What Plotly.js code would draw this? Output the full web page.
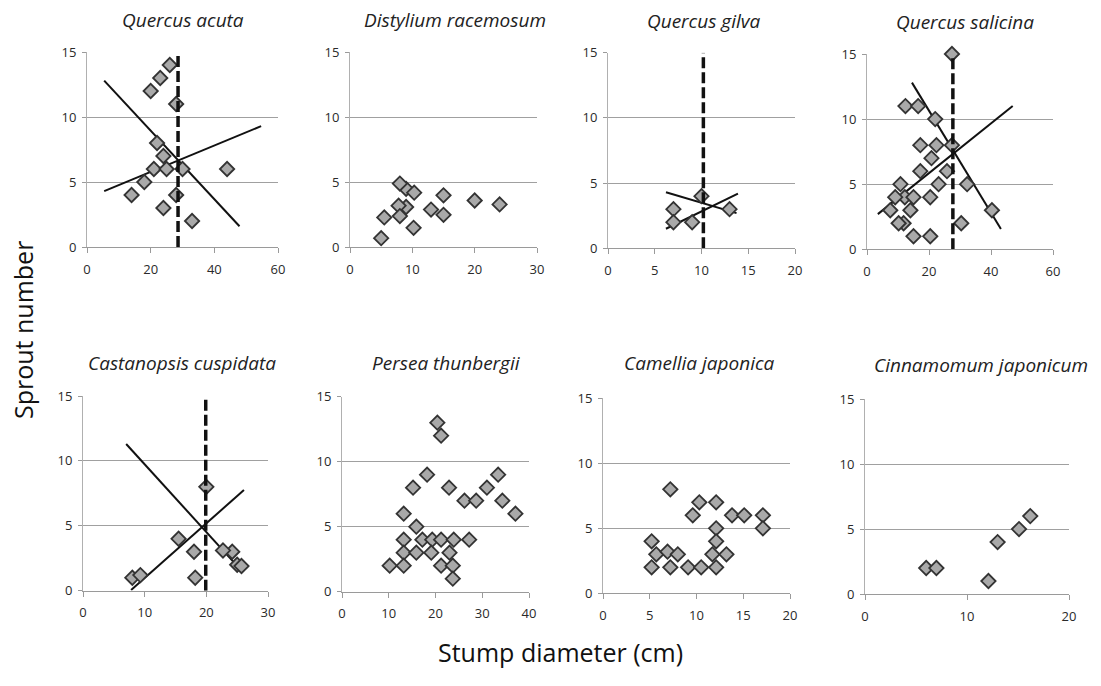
<!DOCTYPE html>
<html>
<head>
<meta charset="utf-8">
<script src="https://cdn.plot.ly/plotly-3.0.1.min.js"></script>
<style>html,body{margin:0;padding:0;background:#fff;}#chart{width:1101px;height:686px;}</style>
</head>
<body>
<div id="chart"></div>
<script>
// ---------- data ----------
const species = ["Quercus acuta","Distylium racemosum","Quercus gilva","Quercus salicina",
                 "Castanopsis cuspidata","Persea thunbergii","Camellia japonica","Cinnamomum japonicum"];
const xMax = [60,30,20,60,30,40,20,20];
const xStep = [20,10,5,20,10,10,5,10];
const yTicks = [0,5,10,15];

const qaX = [14,18,20,23,26,28,22,24,21,25,30,24,28,33,44];
const qaY = [4,5,12,13,14,11,8,7,6,6,6,3,4,2,6];
const drX = [5,5.5,9,8,10.3,9,7.8,8,10.2,13,15,15,20,24];
const drY = [0.7,2.3,4.5,4.9,4.2,3.1,3.2,2.4,1.5,2.9,4,2.5,3.6,3.3];
const qgX = [7,7,9,10,13];
const qgY = [3,2,2,4,3];
const qsX = [27.4,12.4,16.5,22,17.2,22.4,27.4,20.8,17.2,25.8,10.8,23.1,32.3,12.2,9.1,15,20.4,7.5,14,11.8,10.2,30.4,15,20.4,40.3];
const qsY = [15,11,11,10,8,8,8,7,6,6,5,5,5,4,4,4,4,3,3,2,2,2,1,1,3];
const ccX = [8,9.3,15.5,18,18.2,20,24.2,22.7,25,25.7];
const ccY = [1,1.2,4,3,1,8,3,3.1,2,1.9];
const ptX = [20.4,21.2,18.2,15.2,22.9,26.2,28.7,31,33.4,34.3,37.1,13.2,15.9,13.2,17.2,19.3,21.2,23.9,27.2,13.2,15.9,19.1,23,10.2,13.2,21.2,23.7,23.7];
const ptY = [13,12,9,8,8,7,7,8,9,7,6,6,5,4,4,4,4,4,4,3,3,3,3,2,2,2,2,1];
const cjX = [7.2,10.3,12.1,9.6,13.8,15.1,17.1,12.1,17.1,5.2,12.1,5.7,6.9,8,11.7,13.2,5.2,7.2,9.1,10.5,12.1];
const cjY = [8,7,7,6,6,6,6,5,5,4,4,3,3.2,3,3,3,2,2,2,2,2];
const cnX = [6,7,12.1,13,15.1,16.2];
const cnY = [2,2,1,4,5,6];

// fitted lines (end points) and threshold lines
const qaDownX = [5.4,47.9], qaDownY = [12.8,1.6];
const qaUpX = [5.4,54.7],   qaUpY = [4.3,9.3];
const qaThrX = [28.6,28.6], qaThrY = [0,15];
const qgDownX = [6.2,13.75], qgDownY = [4.3,2.7];
const qgUpX = [6.2,13.9],   qgUpY = [1.5,4.2];
const qgThrX = [10.2,10.2], qgThrY = [0,15];
const qsDownX = [14.5,43.2], qsDownY = [12.8,1.56];
const qsUpX = [3.5,47],     qsUpY = [2.7,11];
const qsThrX = [27.7,27.7], qsThrY = [0,14.8];
const ccDownX = [7.0,25.4], ccDownY = [11.3,1.7];
const ccUpX = [7.8,26.1],   ccUpY = [0.05,7.76];
const ccThrX = [19.9,19.9], ccThrY = [0,15];

const pointsX = [qaX,drX,qgX,qsX,ccX,ptX,cjX,cnX];
const pointsY = [qaY,drY,qgY,qsY,ccY,ptY,cjY,cnY];
const fits = {
  0: {down:[qaDownX,qaDownY], up:[qaUpX,qaUpY], thr:[qaThrX,qaThrY]},
  2: {down:[qgDownX,qgDownY], up:[qgUpX,qgUpY], thr:[qgThrX,qgThrY]},
  3: {down:[qsDownX,qsDownY], up:[qsUpX,qsUpY], thr:[qsThrX,qsThrY]},
  4: {down:[ccDownX,ccDownY], up:[ccUpX,ccUpY], thr:[ccThrX,ccThrY]}
};

// ---------- layout (pixel boxes of plot areas) ----------
const W = 1101, H = 686;
const boxes = [
  [87,278,52,247],[350,537,52.3,247.3],[608,795,52.7,248.3],[867,1053,54,249.3],
  [83,268,396,590.7],[342,529,396.7,591.7],[603,790,398.3,593.3],[865,1069,399.3,594]
];
const titlePos = [[183,20],[455,20],[703,21],[965,22],[182,363],[446,363],[699,363],[981,365]];

const traces = [];
const layout = {
  width: W, height: H,
  margin: {l:0,r:0,t:0,b:0},
  paper_bgcolor: '#fff', plot_bgcolor: '#fff',
  showlegend: false,
  font: {family: '"Open Sans", sans-serif', color: '#333'},
  annotations: []
};

for (let i = 0; i < 8; i++) {
  const n = i === 0 ? '' : String(i + 1);
  const xa = 'x' + n, ya = 'y' + n;
  const b = boxes[i];
  const xt = [];
  for (let v = 0; v <= xMax[i]; v += xStep[i]) xt.push(v);
  layout['xaxis' + n] = {
    domain: [b[0]/W, b[1]/W], range: [0, xMax[i]], anchor: ya,
    tickvals: xt, showgrid: false, zeroline: false,
    showline: true, linecolor: '#9a9a9a', linewidth: 1,
    ticks: 'outside', ticklen: 5, tickcolor: '#9a9a9a', ticklabelstandoff: 5,
    tickfont: {size: 13, color: '#2a2a2a'}, fixedrange: true
  };
  layout['yaxis' + n] = {
    domain: [1 - b[3]/H, 1 - b[2]/H], range: [0, 15], anchor: xa,
    tickvals: yTicks, showgrid: true, gridcolor: '#a0a0a0', gridwidth: 1,
    zeroline: false, showline: true, linecolor: '#b0b0b0', linewidth: 1,
    ticks: 'outside', ticklen: 4, tickcolor: '#9a9a9a', ticklabelstandoff: 3,
    tickfont: {size: 13, color: '#2a2a2a'}, fixedrange: true
  };
  if (fits[i]) {
    const f = fits[i];
    traces.push({x: f.down[0], y: f.down[1], xaxis: xa, yaxis: ya, mode: 'lines',
      line: {color: '#111', width: 2}, hoverinfo: 'skip'});
    traces.push({x: f.up[0], y: f.up[1], xaxis: xa, yaxis: ya, mode: 'lines',
      line: {color: '#111', width: 2}, hoverinfo: 'skip'});
  }
  traces.push({
    x: pointsX[i], y: pointsY[i], xaxis: xa, yaxis: ya, mode: 'markers',
    cliponaxis: false,
    marker: {symbol: 'diamond', size: 11, color: '#a9a9a9', line: {color: '#333', width: 1.8}}
  });
  if (fits[i]) {
    const f = fits[i];
    traces.push({x: f.thr[0], y: f.thr[1], xaxis: xa, yaxis: ya, mode: 'lines',
      cliponaxis: false,
      line: {color: '#111', width: 3.5, dash: '11px,4px'}, hoverinfo: 'skip'});
  }
  layout.annotations.push({
    text: '<i>' + species[i] + '</i>', xref: 'paper', yref: 'paper',
    x: titlePos[i][0]/W, y: 1 - titlePos[i][1]/H, xanchor: 'center', yanchor: 'middle',
    showarrow: false, font: {size: 19, color: '#222', family: '"Open Sans", sans-serif'}
  });
}

layout.annotations.push({
  text: 'Sprout number', xref: 'paper', yref: 'paper', x: 23/W, y: 1 - 330/H,
  xanchor: 'center', yanchor: 'middle', textangle: -90, showarrow: false,
  font: {size: 25, color: '#111', family: '"Open Sans", sans-serif'}
});
layout.annotations.push({
  text: 'Stump diameter (cm)', xref: 'paper', yref: 'paper', x: 560/W, y: 1 - 652/H,
  xanchor: 'center', yanchor: 'middle', showarrow: false,
  font: {size: 25, color: '#111', family: '"Open Sans", sans-serif'}
});

Plotly.newPlot('chart', traces, layout, {displayModeBar: false, staticPlot: true});
</script>
</body>
</html>
